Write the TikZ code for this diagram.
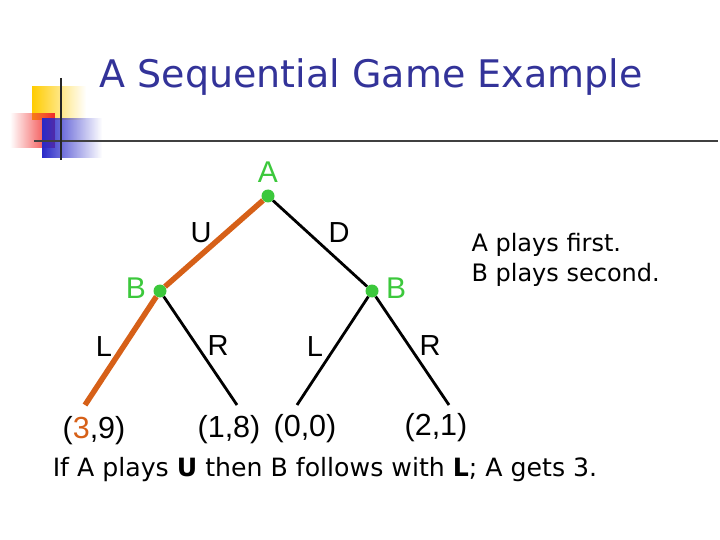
\documentclass[tikz,border=0pt]{standalone}
\usepackage{fontspec}
\setmainfont{Liberation Sans}
\newfontfamily\tahoma{DejaVu Sans}
\usetikzlibrary{fadings}
\definecolor{titleblue}{RGB}{51,51,153}
\definecolor{nodegreen}{RGB}{60,200,60}
\definecolor{pathorange}{RGB}{214,96,24}
\definecolor{logoblue}{RGB}{40,40,200}
\definecolor{logoyellow}{RGB}{255,204,0}
\definecolor{logored}{RGB}{240,40,40}
\begin{document}
\begin{tikzpicture}[x=1pt,y=-1pt,
  gnode/.style={circle,fill=nodegreen,inner sep=0pt,minimum size=13pt},
  glabel/.style={text=nodegreen,font=\fontsize{30}{32}\selectfont},
  mlabel/.style={font=\fontsize{29}{32}\selectfont},
  pay/.style={font=\fontsize{30.5}{32}\selectfont},
  edge/.style={draw=black,line width=2.8pt},
  uedge/.style={draw=pathorange,line width=5.5pt}]
\useasboundingbox (0,0) rectangle (720,540);
% logo decoration
\fill[logoyellow,path fading=east] (32,86) rectangle (86,120);
\fill[logored,path fading=west] (10,113) rectangle (55,148);
\fill[logoblue,path fading=east] (42,118) rectangle (102,158);
\draw[line width=2.5pt,black!75] (34,141) -- (718,141);
\draw[line width=2.5pt,black!85] (61,78) -- (61,160);
% title
\node[text=titleblue,font=\tahoma\fontsize{38}{42}\selectfont] (title) at (371,77) {A Sequential Game Example};
% nodes
\node[gnode] (A) at (268,196) {};
\node[gnode] (B1) at (160,291) {};
\node[gnode] (B2) at (372,291) {};
\coordinate (l1) at (85,405);
\coordinate (r1) at (237,405);
\coordinate (l2) at (297,405);
\coordinate (r2) at (449,405);
% edges
\draw[edge] (A) -- (B2);
\draw[edge] (B1) -- (r1);
\draw[edge] (B2) -- (l2);
\draw[edge] (B2) -- (r2);
\draw[uedge] (A) -- (B1);
\draw[uedge] (B1) -- (l1);
% node labels
\node[glabel] (Alab) at (268,172) {A};
\node[glabel] (B1lab) at (136,288) {B};
\node[glabel] (B2lab) at (396,288) {B};
% move labels
\node[mlabel] (U) at (201,233) {U};
\node[mlabel] (D) at (339,233) {D};
\node[mlabel] (L1) at (104,347) {L};
\node[mlabel] (R1) at (218,346) {R};
\node[mlabel] (L2) at (315,347) {L};
\node[mlabel] (R2) at (430,346) {R};
% payoffs
\node[pay] (p1) at (94,431) {(\textcolor{pathorange}{3},9)};
\node[pay] (p2) at (229,430) {(1,8)};
\node[pay] (p3) at (305,429) {(0,0)};
\node[pay] (p4) at (436,428) {(2,1)};
% side note
\node[font=\tahoma\fontsize{24}{30}\selectfont,align=left,anchor=west] (note) at (468,260) {A plays first.\\B plays second.};
% bottom
\node[font=\tahoma\fontsize{25.2}{28}\selectfont] (bottom) at (325,470) {If A plays \textbf{U} then B follows with \textbf{L}; A gets 3.};
\end{tikzpicture}
\end{document}
